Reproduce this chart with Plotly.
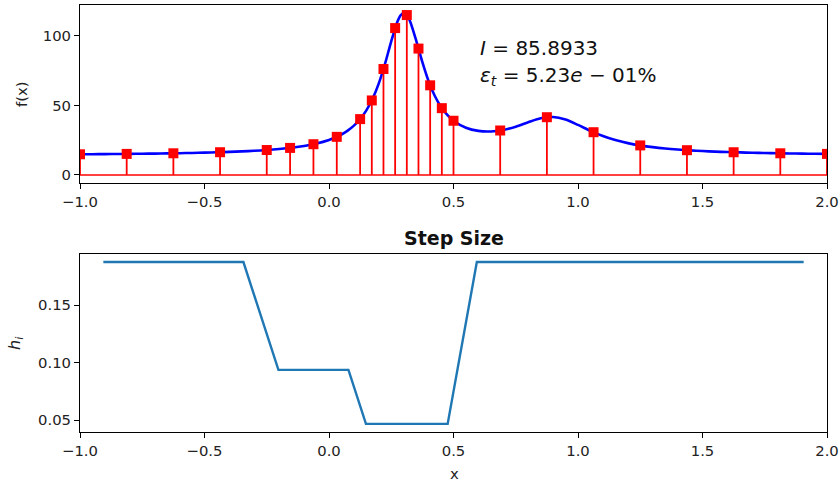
import plotly.graph_objects as go

# Blue curve f(x)
curve_x = [-1.0, -0.95, -0.9, -0.85, -0.8, -0.75, -0.7, -0.65, -0.6, -0.55, -0.5, -0.45, -0.4, -0.35,
           -0.3, -0.25, -0.2, -0.15, -0.1, -0.05, 0.0, 0.025, 0.05, 0.075, 0.1, 0.125, 0.15, 0.175, 0.2,
           0.225, 0.25, 0.275, 0.2875, 0.3, 0.3125, 0.325, 0.35, 0.375, 0.4, 0.425, 0.45, 0.475, 0.5,
           0.55, 0.6, 0.65, 0.7, 0.75, 0.8, 0.85, 0.9, 0.95, 1.0, 1.05, 1.1, 1.15, 1.2, 1.25, 1.3,
           1.35, 1.4, 1.45, 1.5, 1.55, 1.6, 1.65, 1.7, 1.75, 1.8, 1.85, 1.9, 1.95, 2.0]
curve_y = [14.86, 14.92, 14.99, 15.07, 15.16, 15.26, 15.37, 15.51, 15.66, 15.83, 16.04, 16.28, 16.58, 16.94,
           17.38, 17.93, 18.65, 19.58, 20.84, 22.61, 25.18, 26.92, 29.10, 31.88, 35.47, 40.18, 46.43, 54.79, 65.89,
           80.02, 96.16, 110.44, 114.87, 116.5, 115.06, 110.82, 96.92, 81.17, 67.45, 56.79, 48.89, 43.15, 39.0,
           33.95, 31.69, 31.30, 32.38, 34.71, 37.85, 40.73, 41.70, 39.84, 36.0, 31.75, 28.04, 25.12, 22.91, 21.25, 19.99,
           19.02, 18.27, 17.67, 17.19, 16.80, 16.48, 16.21, 15.98, 15.78, 15.62, 15.48, 15.35, 15.24, 15.14]

# Quadrature nodes (red stems)
node_x = [-1.0, -0.8125, -0.625, -0.4375, -0.25, -0.15625, -0.0625, 0.03125, 0.125, 0.171875, 0.21875,
          0.265625, 0.3125, 0.359375, 0.40625, 0.453125, 0.5, 0.6875, 0.875, 1.0625, 1.25, 1.4375,
          1.625, 1.8125, 2.0]
node_y = [14.86, 15.14, 15.58, 16.35, 17.93, 19.45, 22.11, 27.42, 40.18, 53.61, 76.22, 105.69, 115.06,
          90.94, 64.50, 48.07, 39.0, 31.99, 41.55, 30.75, 21.25, 17.81, 16.33, 15.58, 15.14]

# Step sizes
step_x = [-0.90625, -0.71875, -0.53125, -0.34375, -0.203125, -0.109375, -0.015625, 0.078125,
          0.1484375, 0.1953125, 0.2421875, 0.2890625, 0.3359375, 0.3828125, 0.4296875, 0.4765625,
          0.59375, 0.78125, 0.96875, 1.15625, 1.34375, 1.53125, 1.71875, 1.90625]
step_h = [0.1875, 0.1875, 0.1875, 0.1875, 0.09375, 0.09375, 0.09375, 0.09375,
          0.046875, 0.046875, 0.046875, 0.046875, 0.046875, 0.046875, 0.046875, 0.046875,
          0.1875, 0.1875, 0.1875, 0.1875, 0.1875, 0.1875, 0.1875, 0.1875]

x_ticks = [-1.0, -0.5, 0.0, 0.5, 1.0, 1.5, 2.0]
f_ticks = [0, 50, 100]
h_ticks = [0.05, 0.10, 0.15]
integral_text = "<i>I</i> = 85.8933"
error_text = "<i>ε</i><sub><i>t</i></sub> = 5.23<i>e</i> − 01%"

FONT = "DejaVu Sans"
W, H = 840, 482
FS = 14.8

fig = go.Figure()

fig.add_trace(go.Scatter(x=curve_x, y=curve_y, mode="lines", line=dict(color="#0000ff", width=2.6, shape="spline", smoothing=0.8),
                         xaxis="x", yaxis="y", showlegend=False))

stem_x, stem_y = [], []
for xv, yv in zip(node_x, node_y):
    stem_x += [xv, xv, None]
    stem_y += [0, yv, None]
fig.add_trace(go.Scatter(x=stem_x, y=stem_y, mode="lines", line=dict(color="#ff0000", width=1.8),
                         xaxis="x", yaxis="y", showlegend=False))
fig.add_trace(go.Scatter(x=[node_x[0], node_x[-1]], y=[0, 0], mode="lines", line=dict(color="#ff0000", width=1.6),
                         xaxis="x", yaxis="y", showlegend=False))
fig.add_trace(go.Scatter(x=node_x, y=node_y, mode="markers", marker=dict(symbol="square", size=10, color="#ff0000", line=dict(width=0)),
                         xaxis="x", yaxis="y", showlegend=False))

fig.add_trace(go.Scatter(x=step_x, y=step_h, mode="lines", line=dict(color="#1f77b4", width=2.4),
                         xaxis="x2", yaxis="y2", showlegend=False))

xd = [80 / W, 827 / W]
axis_common = dict(showline=True, linecolor="black", linewidth=1, mirror=True, ticks="outside", ticklen=5,
                   tickwidth=1, tickcolor="black", showgrid=False, zeroline=False, automargin=False,
                   tickfont=dict(family=FONT, size=FS, color="#222"))

fig.update_layout(
    width=W, height=H, margin=dict(l=0, r=0, t=0, b=0, autoexpand=False),
    paper_bgcolor="white", plot_bgcolor="white",
    xaxis=dict(domain=xd, range=[-1, 2], tickvals=x_ticks, tickformat=".1f", anchor="y", **axis_common),
    yaxis=dict(domain=[1 - 183 / H, 1 - 5 / H], range=[-5.8, 122.3], tickvals=f_ticks, anchor="x", **axis_common),
    xaxis2=dict(domain=xd, range=[-1, 2], tickvals=x_ticks, tickformat=".1f", anchor="y2", **axis_common),
    yaxis2=dict(domain=[1 - 432 / H, 1 - 254 / H], range=[0.0398, 0.1945], tickvals=h_ticks, tickformat=".2f", anchor="x2", **axis_common),
)

anns = [
    dict(text="f(x)", x=22 / W, y=1 - 94 / H, xref="paper", yref="paper", textangle=-90, showarrow=False,
         font=dict(family=FONT, size=FS, color="#222"), xanchor="center", yanchor="middle"),
    dict(text="<i>h</i><sub><i>i</i></sub>", x=15 / W, y=1 - 343 / H, xref="paper", yref="paper", textangle=-90, showarrow=False,
         font=dict(family=FONT, size=16, color="#222"), xanchor="center", yanchor="middle"),
    dict(text="x", x=454 / W, y=1 - 473 / H, xref="paper", yref="paper", showarrow=False,
         font=dict(family=FONT, size=FS, color="#222"), xanchor="center", yanchor="middle"),
    dict(text="<b>Step Size</b>", x=454 / W, y=1 - 238 / H, xref="paper", yref="paper", showarrow=False,
         font=dict(family=FONT, size=19, color="#111"), xanchor="center", yanchor="middle"),
    dict(text=integral_text, x=0.6, y=91, xref="x", yref="y", showarrow=False,
         font=dict(family=FONT, size=20, color="#111"), xanchor="left", yanchor="middle"),
    dict(text=error_text, x=0.6, y=71.5, xref="x", yref="y", showarrow=False,
         font=dict(family=FONT, size=20, color="#111"), xanchor="left", yanchor="middle"),
]
fig.update_layout(annotations=anns)

fig.write_html("out.html")
